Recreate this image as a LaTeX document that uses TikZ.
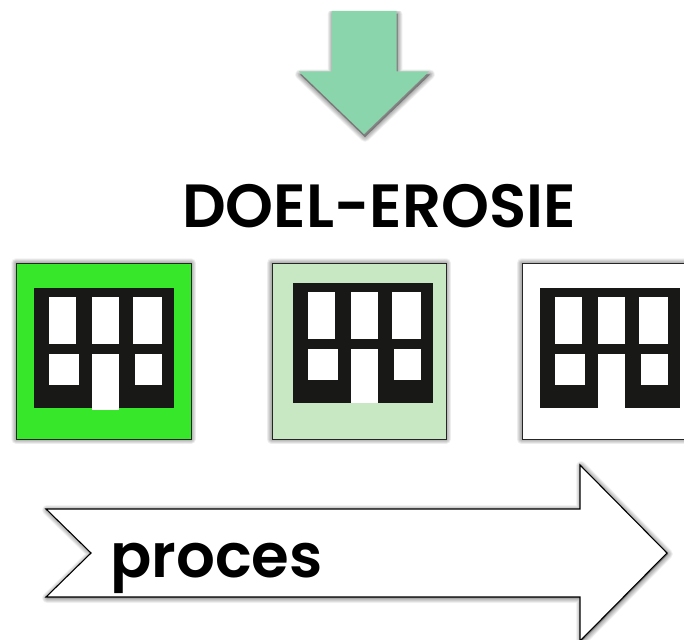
\documentclass[tikz,border=0pt]{standalone}
\usepackage{fontspec}
\setmainfont[BoldFont={Poppins SemiBold}]{Poppins}
\usetikzlibrary{positioning}
\definecolor{arrowgreen}{HTML}{8BD5AC}
\definecolor{brightgreen}{HTML}{37E82A}
\definecolor{palegreen}{HTML}{C8E8C4}
\definecolor{buildingblack}{HTML}{181816}
\tikzset{
    tile/.style={draw=black!85,line width=1.1pt,anchor=north west,inner sep=0pt,minimum width=175pt,minimum height=176pt},
    pane/.style={fill=white,draw=none},
    softshadow/.style={draw=black,fill=black,opacity=0.035,line join=round}
}
% blurred shadow: a few wide see-through copies of a closed path
\newcommand{\softcopy}[2]{
    \foreach \wid in {1,2,...,10}
        \draw[softshadow,line width=\wid pt,shift={#1}] #2;
}
% building at top left corner (#1,#2), door runs down to #3
\newcommand{\building}[3]{
    \begin{scope}[shift={(#1,#2)}]
    \fill[buildingblack] (0,0) rectangle (140,120);
    \fill[pane] (15.5,9) rectangle (42.5,56);
    \fill[pane] (58.5,9) rectangle (85.5,56);
    \fill[pane] (99.5,9) rectangle (128.5,56);
    \fill[pane] (15.5,66) rectangle (45,97);
    \fill[pane] (101.5,66) rectangle (128.5,97);
    \fill[pane] (58.5,66) rectangle (85.5,#3);
    \end{scope}
}

\begin{document}
\begin{tikzpicture}[x=1pt,y=-1pt]
\useasboundingbox (0,0) rectangle (684,639);
\fill[white] (0,0) rectangle (684,639);

% down arrow
\softcopy{(1,3)}{(331.5,11) -- (396.5,11) -- (396.5,71.5) -- (429,71.5) -- (364,134) -- (299,71.5) -- (331.5,71.5) -- cycle}
\fill[white] (290,0) rectangle (440,11);
\fill[arrowgreen] (331.5,11) -- (396.5,11) -- (396.5,71.5) -- (429,71.5) -- (364,134) -- (299,71.5) -- (331.5,71.5) -- cycle;

\node[font=\fontsize{61}{61}\selectfont\bfseries,anchor=base] (title) at (379,227) {DOEL-EROSIE};

% tiles
\softcopy{(0,0)}{(16,263) rectangle (191,439)}
\softcopy{(0,0)}{(271.5,263) rectangle (446,439)}
\softcopy{(0,0)}{(521.5,263) rectangle (700,439)}
\node[tile,fill=brightgreen] (tilefull) at (16,263) {};
\node[tile,fill=palegreen,minimum width=174.5pt] (tilepale) at (271.5,263) {};
\node[tile,fill=white,minimum width=180pt] (tileempty) at (521.5,263) {};

\building{33.5}{288}{122}
\building{292.5}{283}{120}
\building{539.5}{288}{120}

% process arrow
\softcopy{(1,1)}{(46,509) -- (580,509) -- (580,465) -- (667,553) -- (580,641) -- (580,597) -- (46,597) -- (91,553) -- cycle}
\draw[fill=white,line width=1.1pt] (46,509) -- (580,509) -- (580,465) -- (667,553) -- (580,641) -- (580,597) -- (46,597) -- (91,553) -- cycle;

\node[font=\fontsize{61}{61}\selectfont\bfseries,anchor=base west,inner sep=0pt] (proces) at (110,577) {proces};
\end{tikzpicture}
\end{document}
